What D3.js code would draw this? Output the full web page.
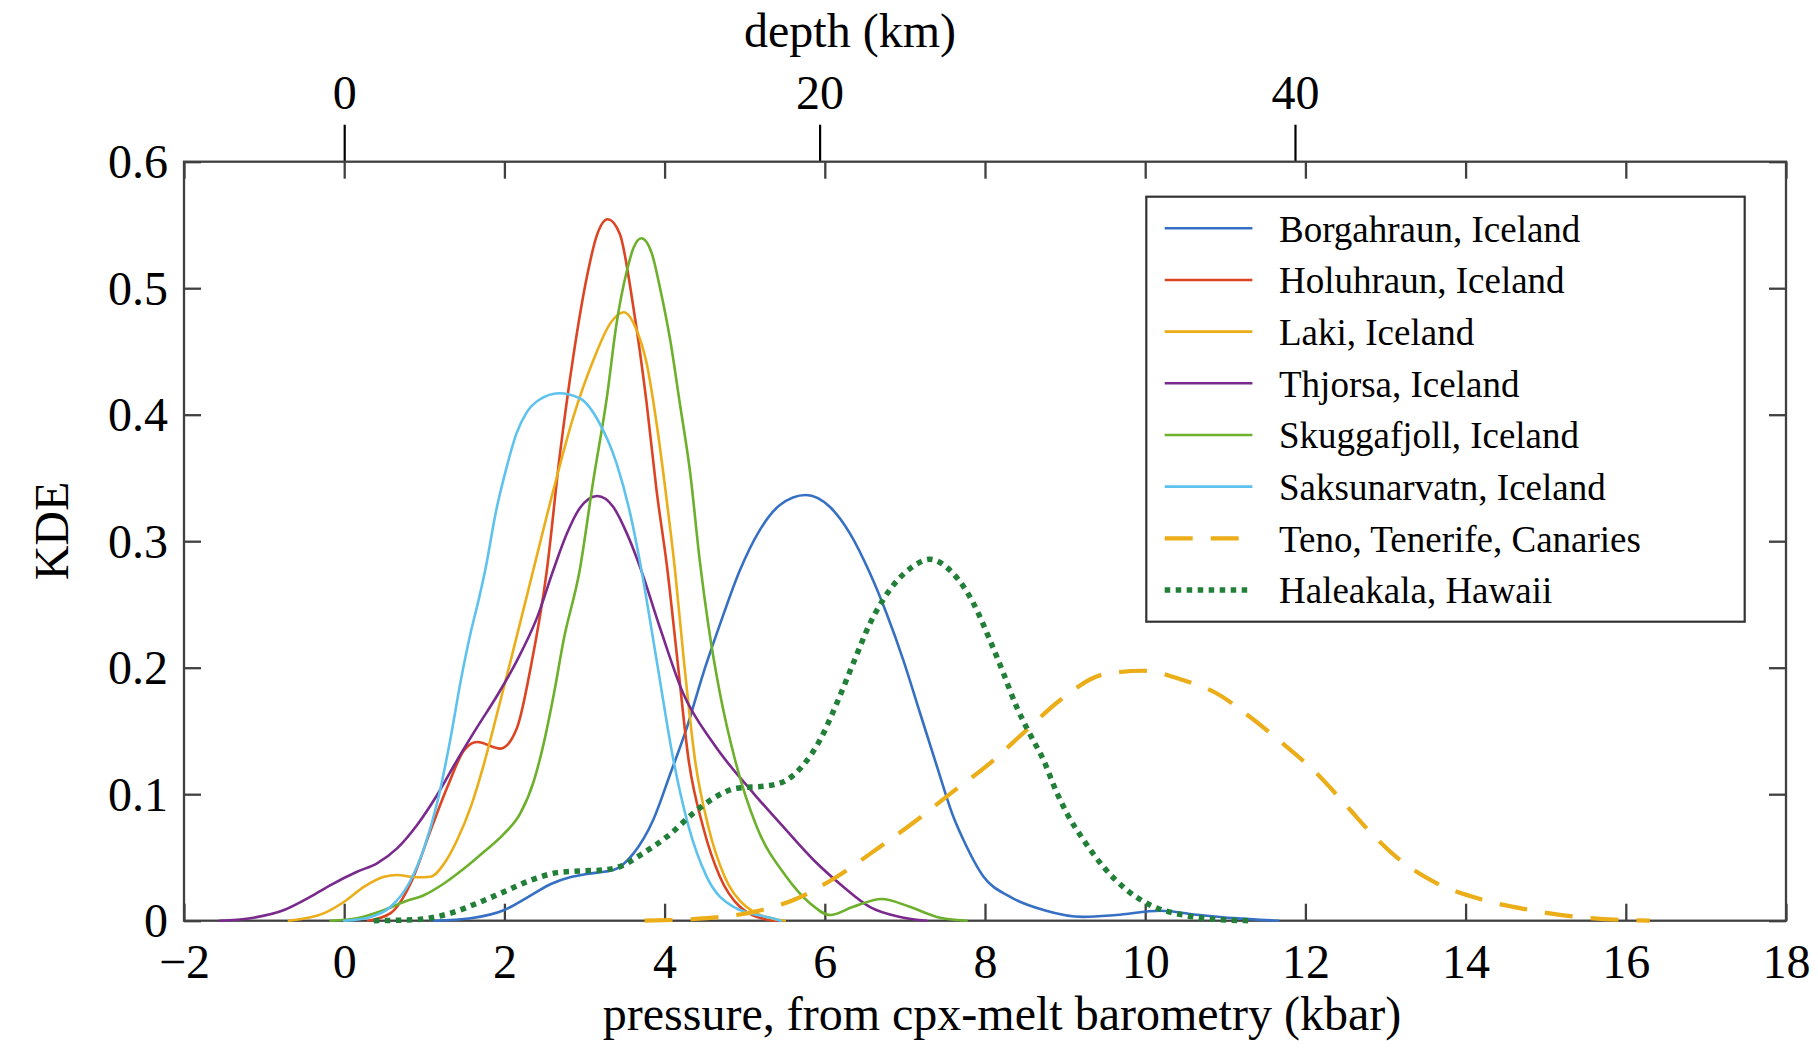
<!DOCTYPE html>
<html>
<head>
<meta charset="utf-8">
<script src="https://cdn.jsdelivr.net/npm/d3@7"></script>
<style>
  body { margin: 0; background: #fff; }
  svg { display: block; }
  text { font-family: "Liberation Serif", "Times New Roman", serif; fill: #000; }
</style>
</head>
<body>
<svg id="chart" width="1818" height="1049"></svg>
<script>
// ---- Data: kernel density estimates of cpx-melt pressures (kbar, KDE) ----
const seriesNames = [
  "Borgahraun, Iceland", "Holuhraun, Iceland", "Laki, Iceland", "Thjorsa, Iceland",
  "Skuggafjoll, Iceland", "Saksunarvatn, Iceland", "Teno, Tenerife, Canaries", "Haleakala, Hawaii"
];

const borgahraun = [[1.12,0],[1.58,0.002],[2.0,0.0085],[2.33,0.02],[2.58,0.029],[2.83,0.0345],[3.03,0.037],
  [3.36,0.040],[3.61,0.053],[3.86,0.08],[4.07,0.116],[4.28,0.153],[4.48,0.195],[4.69,0.234],[4.94,0.277],
  [5.19,0.309],[5.44,0.3286],[5.765,0.3365],[6.065,0.327],[6.315,0.306],[6.564,0.2746],[6.77,0.243],
  [6.98,0.206],[7.19,0.164],[7.40,0.122],[7.60,0.083],[7.73,0.064],[7.98,0.035],[8.31,0.019],[8.73,0.0085],
  [9.23,0.003],[9.64,0.0045],[10.19,0.0079],[10.68,0.0045],[11.1,0.002],[11.66,0]];

const holuhraun = [[0.3,0],[0.58,0.006],[0.83,0.0296],[1.08,0.0717],[1.29,0.106],[1.5,0.135],[1.66,0.1413],
  [1.95,0.136],[2.16,0.153],[2.33,0.2008],[2.53,0.277],[2.69,0.367],[2.86,0.446],[3.03,0.509],
  [3.15,0.541],[3.29,0.5545],[3.44,0.543],[3.61,0.485],[3.776,0.409],[3.90,0.340],[4.03,0.28],[4.16,0.206],
  [4.30,0.127],[4.48,0.0743],[4.69,0.0348],[4.94,0.011],[5.27,0.001],[5.4,0]];

const laki = [[-0.69,0],[-0.25,0.006],[0.0,0.015],[0.25,0.027],[0.5,0.0348],[0.66,0.0361],[0.91,0.0343],
  [1.08,0.0348],[1.25,0.0454],[1.41,0.0638],[1.58,0.09],[1.745,0.124],[1.91,0.164],[2.08,0.206],
  [2.36,0.277],[2.61,0.340],[2.86,0.398],[3.11,0.443],[3.32,0.472],[3.49,0.481],[3.65,0.467],[3.776,0.4406],
  [3.90,0.393],[4.026,0.3326],[4.13,0.277],[4.24,0.206],[4.38,0.127],[4.546,0.0743],[4.75,0.0348],
  [5.02,0.011],[5.40,0.001],[5.5,0]];

const thjorsa = [[-1.56,0],[-1.17,0.002],[-0.75,0.0085],[-0.42,0.019],[-0.17,0.0282],[0.16,0.0387],
  [0.41,0.0454],[0.66,0.0572],[0.91,0.0757],[1.16,0.0994],[1.41,0.127],[1.66,0.153],[1.91,0.178],[2.16,0.206],
  [2.41,0.240],[2.61,0.277],[2.78,0.306],[2.94,0.326],[3.16,0.3357],[3.36,0.327],[3.53,0.306],[3.68,0.282],
  [3.94,0.232],[4.23,0.18],[4.61,0.140],[5.11,0.1007],[5.48,0.0743],[5.86,0.048],[6.23,0.0269],[6.56,0.011],
  [6.94,0.003],[7.27,0]];

const skuggafjoll = [[-0.17,0],[0.16,0.002],[0.5,0.0085],[0.75,0.015],[1.0,0.0203],[1.25,0.0296],[1.5,0.0414],
  [1.745,0.0545],[2.0,0.069],[2.2,0.085],[2.37,0.111],[2.49,0.140],[2.62,0.18],[2.74,0.222],
  [2.94,0.277],[3.11,0.348],[3.28,0.414],[3.40,0.472],[3.53,0.514],[3.61,0.5315],[3.71,0.5395],[3.84,0.5276],
  [3.94,0.501],[4.07,0.459],[4.19,0.409],[4.32,0.3537],[4.44,0.284],[4.55,0.232],[4.69,0.18],[4.88,0.127],
  [5.15,0.0743],[5.52,0.0348],[5.815,0.0138],[6.065,0.0045],[6.355,0.011],[6.71,0.0172],[7.06,0.011],
  [7.40,0.003],[7.77,0]];

const saksunarvatn = [[0.0,0],[0.33,0.003],[0.58,0.011],[0.83,0.032],[1.0,0.058],[1.16,0.093],[1.33,0.145],
  [1.45,0.188],[1.58,0.228],[1.68,0.254],[1.76,0.277],[1.90,0.325],[2.03,0.359],[2.15,0.385],[2.28,0.402],
  [2.44,0.412],[2.68,0.417],[2.94,0.413],[3.19,0.393],[3.40,0.3616],[3.57,0.322],[3.70,0.281],[3.90,0.206],
  [4.11,0.127],[4.30,0.0743],[4.525,0.0348],[4.86,0.011],[5.40,0.001],[5.45,0]];

const teno = [[3.75,0],[4.53,0.002],[5.11,0.007],[5.61,0.0164],[6.15,0.0348],[6.69,0.0585],[7.15,0.0796],
  [7.60,0.102],[8.06,0.1244],[8.52,0.1508],[8.94,0.1745],[9.5,0.195],[9.98,0.1976],[10.48,0.190],
  [10.89,0.1798],[11.31,0.161],[11.72,0.140],[12.14,0.1165],[12.56,0.0875],[12.81,0.070],[13.18,0.048],
  [13.64,0.0296],[14.22,0.0164],[14.80,0.0085],[15.39,0.003],[16.30,0]];

const haleakala = [[0.37,0],[0.91,0.001],[1.33,0.006],[1.66,0.0138],[2.0,0.023],[2.33,0.032],[2.66,0.038],
  [3.0,0.0395],[3.22,0.040],[3.44,0.0427],[3.73,0.0533],[4.03,0.0664],[4.36,0.085],[4.61,0.0968],[4.90,0.1047],
  [5.27,0.1065],[5.52,0.111],[5.73,0.123],[5.94,0.1428],[6.15,0.1719],[6.355,0.2035],[6.564,0.235],
  [6.81,0.2614],[7.10,0.28],[7.31,0.2857],[7.60,0.2746],[7.855,0.251],[8.06,0.222],[8.23,0.1956],
  [8.395,0.169],[8.54,0.150],[8.73,0.127],[8.9,0.1007],[9.03,0.084],[9.23,0.0638],[9.477,0.0427],
  [9.77,0.0243],[10.06,0.0124],[10.476,0.0045],[10.89,0.001],[11.33,0]];

const seriesValues = [borgahraun, holuhraun, laki, thjorsa, skuggafjoll, saksunarvatn, teno, haleakala];

const pressureTicks = [-2, 0, 2, 4, 6, 8, 10, 12, 14, 16, 18];
const kdeTicks = [0, 0.1, 0.2, 0.3, 0.4, 0.5, 0.6];
const depthTicks = [0, 20, 40];
const KM_PER_KBAR = 20 / 5.935;   // depth conversion used for the upper axis

// ---- Styles ----
const seriesStyles = [
  { color: "#3670c4", width: 2.6, dash: null },
  { color: "#dc4422", width: 2.6, dash: null },
  { color: "#ebad18", width: 2.6, dash: null },
  { color: "#7a2a8c", width: 2.6, dash: null },
  { color: "#6cb02c", width: 2.6, dash: null },
  { color: "#5ec2ee", width: 2.6, dash: null },
  { color: "#ebad18", width: 4.2, dash: "28 18" },
  { color: "#217f38", width: 5.5, dash: "5.5 5.5" }
];
const AXIS_COLOR = "#404040";

// ---- Layout ----
const plot = { left: 184, right: 1786, top: 161.7, bottom: 920.7 };
const svg = d3.select("#chart");

const x = d3.scaleLinear().domain([-2, 18]).range([plot.left, plot.right]);
const y = d3.scaleLinear().domain([0, 0.6]).range([plot.bottom, plot.top]);
const depth = d3.scaleLinear()
  .domain([-2 * KM_PER_KBAR, 18 * KM_PER_KBAR])
  .range([plot.left, plot.right]);

const fmtP = d => (d < 0 ? "\u2212" + Math.abs(d) : String(d));
const fmtK = d => (d === 0 ? "0" : d3.format(".1f")(d));

function styleAxis(g) {
  g.select(".domain").remove();
  g.selectAll(".tick line").attr("stroke", AXIS_COLOR).attr("stroke-width", 2.3);
  g.selectAll("text").attr("font-size", 48).attr("fill", "#000")
    .style("font-family", '"Liberation Serif", "Times New Roman", serif');
}

// bottom pressure axis (ticks inward)
const gBottom = svg.append("g").attr("transform", `translate(0,${plot.bottom})`)
  .call(d3.axisBottom(x).tickValues(pressureTicks).tickFormat(fmtP).tickSizeInner(-17).tickSizeOuter(0).tickPadding(23));
styleAxis(gBottom);

// top: pressure ticks inward, no labels
const gTop = svg.append("g").attr("transform", `translate(0,${plot.top})`)
  .call(d3.axisTop(x).tickValues(pressureTicks).tickFormat("").tickSizeInner(-17).tickSizeOuter(0));
styleAxis(gTop);

// left KDE axis (ticks inward)
const gLeft = svg.append("g").attr("transform", `translate(${plot.left},0)`)
  .call(d3.axisLeft(y).tickValues(kdeTicks).tickFormat(fmtK).tickSizeInner(-17).tickSizeOuter(0).tickPadding(16));
styleAxis(gLeft);
gLeft.selectAll("text").attr("dy", "0.33em");

// right side ticks
const gRight = svg.append("g").attr("transform", `translate(${plot.right},0)`)
  .call(d3.axisRight(y).tickValues(kdeTicks).tickFormat("").tickSizeInner(-17).tickSizeOuter(0));
styleAxis(gRight);

// depth axis above the frame (ticks outward)
const gDepth = svg.append("g").attr("transform", `translate(0,${plot.top})`)
  .call(d3.axisTop(depth).tickValues(depthTicks).tickFormat(d3.format("d")).tickSizeInner(37).tickSizeOuter(0).tickPadding(16));
gDepth.select(".domain").remove();
gDepth.selectAll(".tick line").attr("stroke", "#000").attr("stroke-width", 2.2);
gDepth.selectAll("text").attr("font-size", 48).attr("fill", "#000")
  .style("font-family", '"Liberation Serif", "Times New Roman", serif');

// frame
svg.append("rect")
  .attr("x", plot.left).attr("y", plot.top)
  .attr("width", plot.right - plot.left).attr("height", plot.bottom - plot.top)
  .attr("fill", "none").attr("stroke", AXIS_COLOR).attr("stroke-width", 2.3);

// axis titles
svg.append("text").attr("x", 1002).attr("y", 1030).attr("text-anchor", "middle")
  .attr("font-size", 48).text("pressure, from cpx-melt barometry (kbar)");
svg.append("text").attr("x", 850).attr("y", 47).attr("text-anchor", "middle")
  .attr("font-size", 48).text("depth (km)");
svg.append("text").attr("transform", "translate(68,531) rotate(-90)").attr("text-anchor", "middle")
  .attr("font-size", 48).text("KDE");

// density curves
const line = d3.line()
  .x(d => x(d[0]))
  .y(d => y(d[1]))
  .curve(d3.curveMonotoneX);

const gCurves = svg.append("g");
seriesValues.forEach((vals, i) => {
  const s = seriesStyles[i];
  gCurves.append("path")
    .datum(vals)
    .attr("d", line)
    .attr("fill", "none")
    .attr("stroke", s.color)
    .attr("stroke-width", s.width)
    .attr("stroke-linejoin", "round")
    .attr("stroke-linecap", s.dash ? "butt" : "round")
    .attr("stroke-dasharray", s.dash);
});

// legend
const legend = svg.append("g");
legend.append("rect")
  .attr("x", 1146.3).attr("y", 196.7).attr("width", 598.4).attr("height", 425)
  .attr("fill", "#fff").attr("stroke", "#333").attr("stroke-width", 2.2);
seriesNames.forEach((name, i) => {
  const s = seriesStyles[i];
  const ly = 228.3 + i * 51.67;
  legend.append("line")
    .attr("x1", 1164.7).attr("x2", 1252.4).attr("y1", ly).attr("y2", ly)
    .attr("stroke", s.color).attr("stroke-width", s.width)
    .attr("stroke-dasharray", s.dash);
  legend.append("text")
    .attr("x", 1279).attr("y", ly + 13.4)
    .attr("font-size", 37).text(name);
});
</script>
</body>
</html>
